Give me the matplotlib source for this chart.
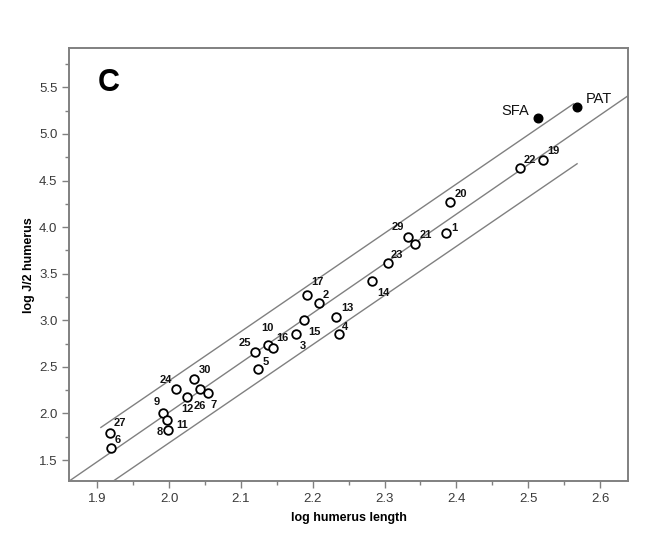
import matplotlib.pyplot as plt

# specimen number, log humerus length, log J/2 humerus
labels = ["27", "6", "9", "11", "8", "24", "12", "30", "26", "7",
          "25", "5", "10", "16", "3", "15", "17", "2", "13", "4",
          "14", "23", "29", "21", "1", "20", "22", "19"]
log_len = [1.918, 1.919, 1.992, 1.997, 1.999, 2.010, 2.025, 2.034, 2.043, 2.054,
           2.119, 2.124, 2.137, 2.144, 2.177, 2.188, 2.192, 2.208, 2.233, 2.236,
           2.282, 2.305, 2.332, 2.343, 2.386, 2.391, 2.489, 2.521]
log_j = [1.786, 1.632, 2.000, 1.929, 1.820, 2.258, 2.178, 2.365, 2.258, 2.215,
         2.657, 2.475, 2.733, 2.700, 2.858, 3.000, 3.276, 3.186, 3.036, 2.858,
         3.418, 3.619, 3.894, 3.815, 3.936, 4.268, 4.633, 4.723]
# label offsets (pixels)
offsets = [(10, 10), (7, 8), (-7, 11), (15, -5), (-9, -2), (-10, 9), (0, -12), (11, 9), (0, -17), (6, -12),
           (-10, 9), (8, 7), (0, 17), (10, 10), (7, -12), (10, -12), (10, 13), (7, 8), (11, 9), (6, 7),
           (12, -12), (9, 8), (-10, 10), (10, 9), (8, 5), (11, 8), (10, 8), (10, 9)]

fossil_names = ["SFA", "PAT"]
fossil_len = [2.513, 2.568]
fossil_j = [5.173, 5.287]
fossil_offsets = [(-22, 7), (22, 8)]

# regression line and limits (start x, start y, end x, end y)
upper_line = [(1.905, 2.563), (1.850, 5.323)]
mid_line = [(1.861, 2.639), (1.275, 5.410)]
lower_line = [(1.921, 2.568), (1.268, 4.680)]

fig = plt.figure(figsize=(6.7, 5.52), dpi=100)
ax = fig.add_axes([0.1034, 0.1286, 0.834, 0.784])

gray = "#808080"
for ln in (upper_line, mid_line, lower_line):
    ax.plot(ln[0], ln[1], color=gray, lw=1.0, zorder=1)

ax.plot(log_len, log_j, "o", mfc="white", mec="black", ms=6.2, mew=1.3, zorder=3)
ax.plot(fossil_len, fossil_j, "o", color="black", ms=6.2, zorder=3)

for lab, x, y, off in zip(labels, log_len, log_j, offsets):
    ax.annotate(lab, (x, y), xytext=off, textcoords="offset pixels",
                ha="center", va="center", fontsize=8, fontweight="bold",
                family="Liberation Sans", color="#111111")
for lab, x, y, off in zip(fossil_names, fossil_len, fossil_j, fossil_offsets):
    ax.annotate(lab, (x, y), xytext=off, textcoords="offset pixels",
                ha="center", va="center", fontsize=10.5, family="Liberation Sans",
                color="#111111")

ax.text(0.07, 0.92, "C", transform=ax.transAxes, fontsize=22, fontweight="bold",
        family="Liberation Sans", ha="center", va="center")

ax.set_xlim(1.861, 2.639)
ax.set_ylim(1.275, 5.92)
ax.set_xticks([1.9, 2.0, 2.1, 2.2, 2.3, 2.4, 2.5, 2.6])
ax.set_xticks([1.95, 2.05, 2.15, 2.25, 2.35, 2.45, 2.55], minor=True)
ax.set_yticks([1.5, 2.0, 2.5, 3.0, 3.5, 4.0, 4.5, 5.0, 5.5])
ax.set_yticks([1.75, 2.25, 2.75, 3.25, 3.75, 4.25, 4.75, 5.25, 5.75], minor=True)
ax.tick_params(which="both", color=gray, width=1.0, direction="out")
ax.tick_params(which="major", length=5, labelsize=9.5, labelcolor="#3a3a3a")
ax.tick_params(which="minor", length=3)
for lbl in ax.get_xticklabels() + ax.get_yticklabels():
    lbl.set_family("Liberation Sans")
for sp in ax.spines.values():
    sp.set_color(gray)
    sp.set_linewidth(1.4)

ax.set_xlabel("log humerus length", fontsize=9, fontweight="bold", family="Liberation Sans", labelpad=5)
ax.set_ylabel("log J/2 humerus", fontsize=9, fontweight="bold", family="Liberation Sans", labelpad=3)

fig.savefig("out.png", dpi=100)
